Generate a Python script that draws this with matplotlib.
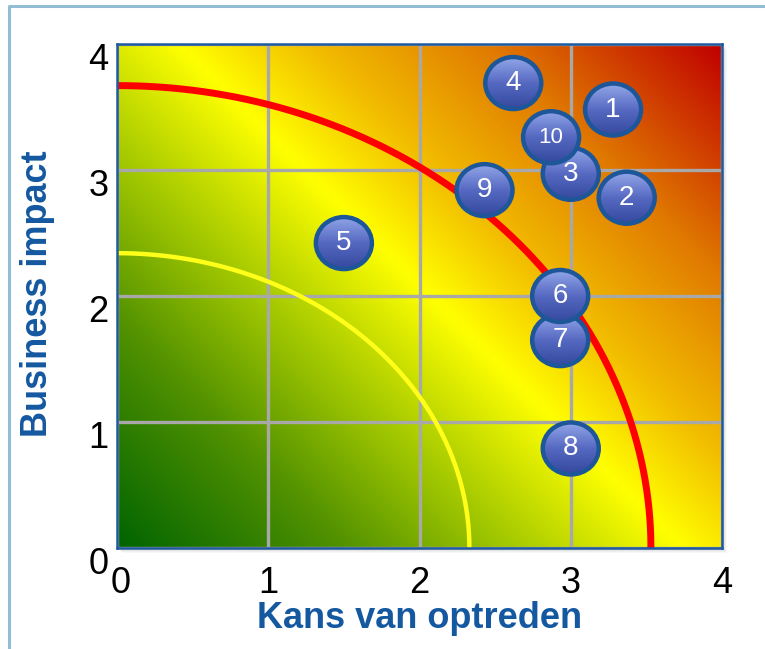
import matplotlib
matplotlib.use('Agg')
import matplotlib.pyplot as plt
import matplotlib.transforms as mtransforms
import numpy as np
from matplotlib.colors import LinearSegmentedColormap
from matplotlib.patches import Ellipse, Rectangle
from matplotlib.lines import Line2D

plt.rcParams['font.family'] = ['Liberation Sans', 'DejaVu Sans']

# risico's: nummer, kans van optreden (x), business impact (y)
risk_ids = ['1', '2', '3', '4', '5', '6', '7', '8', '9', '10']
kans = [3.28, 3.37, 3.00, 2.62, 1.50, 2.93, 2.93, 3.00, 2.43, 2.87]
impact = [3.48, 2.78, 2.97, 3.69, 2.42, 2.00, 1.65, 0.79, 2.84, 3.26]
draw_order = [5, 8, 7, 6, 9, 2, 3, 10, 4, 1]  # 10 ligt over 3, 6 over 7

ticks = [0, 1, 2, 3, 4]
tick_labels = ['0', '1', '2', '3', '4']

# grenslijnen (kwart ellips): straal in x en y
red_rx, red_ry = 3.53, 3.67
yellow_rx, yellow_ry = 2.33, 2.34

W, H = 765, 649
fig = plt.figure(figsize=(W / 100, H / 100), dpi=100)
ax = fig.add_axes([117 / W, 101 / H, 605 / W, 504 / H])

# achtergrond: diagonaal verloop groen -> geel -> rood
u = np.linspace(0, 1, 400)
v = np.linspace(0, 1, 400)
U, V = np.meshgrid(u, v)
T = (U * 605 + V * 504) / 1109
bg_cmap = LinearSegmentedColormap.from_list('risk', [
    (0.0, '#006400'), (0.2, '#4F9000'), (0.36, '#A6CA00'), (0.51, '#FFFF00'),
    (0.63, '#F2BC00'), (0.79, '#E07A00'), (1.0, '#C00000')])
ax.imshow(T, extent=[0, 4, 0, 4], origin='lower', cmap=bg_cmap, aspect='auto',
          zorder=0, interpolation='bilinear')

# grenslijnen
theta = np.linspace(0, np.pi / 2, 300)
ax.plot(red_rx * np.cos(theta), red_ry * np.sin(theta), color='#FF0000', lw=5,
        zorder=2, solid_capstyle='butt')
ax.plot(yellow_rx * np.cos(theta), yellow_ry * np.sin(theta), color='#FFFF1A', lw=3.2,
        zorder=2, solid_capstyle='butt')

# bolletjes met nummers
w, h = 56 / 151.25, 52 / 126
ball_cmap = LinearSegmentedColormap.from_list('ball', ['#34499E', '#5669C2', '#92A6E8'])
grad = np.linspace(0, 1, 64).reshape(-1, 1)
for k, n in enumerate(draw_order):
    i = n - 1
    x, y = kans[i], impact[i]
    z = 3 + k
    clip = Ellipse((x, y), w, h, transform=ax.transData)
    im = ax.imshow(grad, extent=[x - w / 2, x + w / 2, y - h / 2, y + h / 2],
                   origin='lower', cmap=ball_cmap, aspect='auto', zorder=z)
    im.set_clip_path(clip)
    ax.add_patch(Ellipse((x, y), w, h, fill=False, edgecolor='#1D5799', lw=3.2,
                         zorder=z + 0.1))
    fs = 16 if len(risk_ids[i]) > 1 else 20
    ax.text(x, y, risk_ids[i], color='white', fontsize=fs, ha='center',
            va='center', zorder=z + 0.2)

ax.set_xlim(0, 4)
ax.set_ylim(0, 4)
ax.set_xticks(ticks)
ax.set_xticklabels(tick_labels)
ax.set_yticks(ticks)
ax.set_yticklabels(tick_labels)
ax.grid(color='#A8A8A8', lw=2.4)
ax.tick_params(length=0, labelsize=26)
ax.tick_params(axis='x', pad=13)
ax.tick_params(axis='y', pad=6)
shift = mtransforms.ScaledTranslation(0, -0.13, fig.dpi_scale_trans)
for lab in ax.get_yticklabels():
    lab.set_transform(lab.get_transform() + shift)
xshift = mtransforms.ScaledTranslation(0.04, 0, fig.dpi_scale_trans)
ax.get_xticklabels()[0].set_transform(ax.get_xticklabels()[0].get_transform() + xshift)
for s in ax.spines.values():
    s.set_color('#1F5A9E')
    s.set_linewidth(1.8)
    s.set_zorder(20)

# schaduw achter het vlak
for d, a in [(5, 0.05), (4, 0.07), (3, 0.09), (2, 0.1)]:
    fig.add_artist(Rectangle(((117 + d) / W, (101 - d) / H), 605 / W, 504 / H,
                             transform=fig.transFigure, facecolor='#808080',
                             edgecolor='none', alpha=a, zorder=-1))

fig.text(419.5 / W, 1 - 619 / H, 'Kans van optreden', color='#1458A0',
         fontsize=26, fontweight='bold', ha='center', va='center')
fig.text(38 / W, 1 - 294 / H, 'Business impact', color='#1458A0', fontsize=26,
         fontweight='bold', ha='center', va='center', rotation=90)

# rand van de dia
fig.add_artist(Line2D([9 / W, 9 / W, 1], [0, 1 - 5.5 / H, 1 - 5.5 / H],
                      transform=fig.transFigure, color='#93BDD4', lw=2.2))

fig.savefig('out.png', dpi=100)
